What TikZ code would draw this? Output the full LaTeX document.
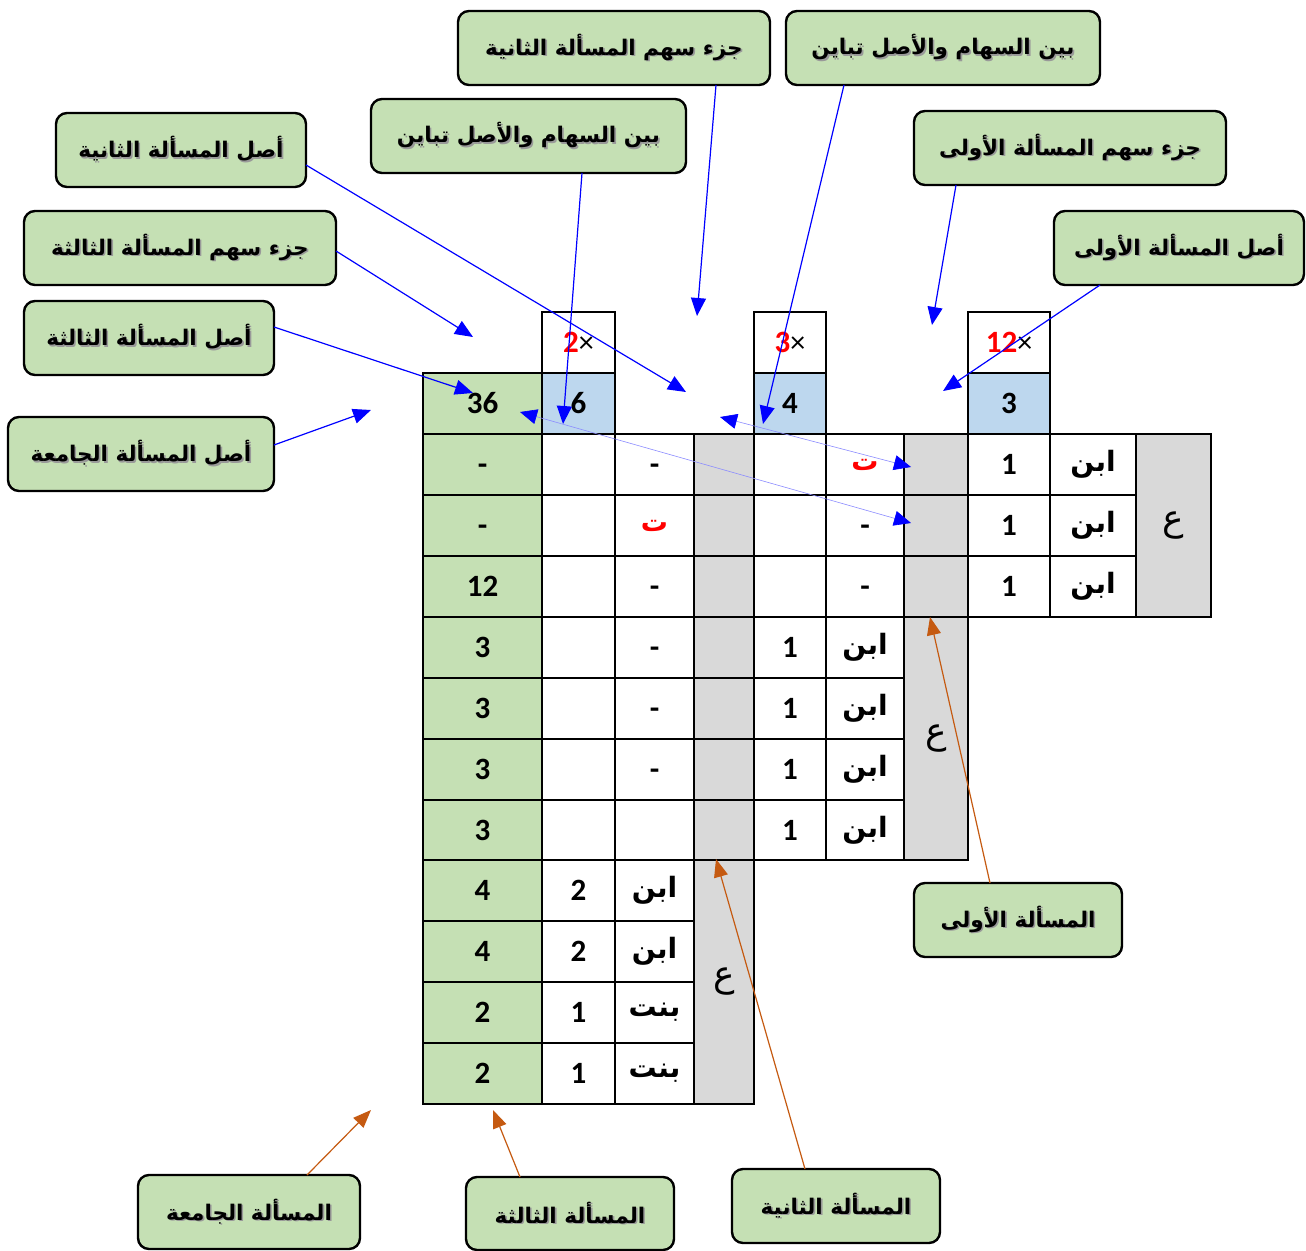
\documentclass[tikz,border=0pt]{standalone}
\usepackage{fontspec}
\usetikzlibrary{arrows.meta}
\TeXXeTstate=1
\newfontfamily\arabicfont[Script=Arabic]{DejaVu Sans}
\newfontfamily\numfont{Carlito}
\definecolor{boxgreen}{HTML}{C5E0B4}
\definecolor{cellblue}{HTML}{BDD7EE}
\definecolor{cellgray}{HTML}{D9D9D9}
\definecolor{rust}{HTML}{C55A11}
\definecolor{paleblue}{HTML}{8C8CFF}
\definecolor{tipblue}{HTML}{0000FF}

% Arabic word inside a table cell
\newcommand\arc[1]{{\arabicfont\bfseries\fontsize{28}{32}\selectfont\beginR #1\endR}}
% the large ain of a merged column
\newcommand\ain{{\arabicfont\mdseries\fontsize{36}{40}\selectfont\beginR ع\endR}}
% red taa mark
\newcommand\redt{{\color{red}\arabicfont\bfseries\fontsize{27}{32}\selectfont\beginR ت\endR}}
% dash sitting at digit height
\newcommand\dsh{\vphantom{1}-}
% multiplier header: red factor and a black times sign
\newcommand\mult[1]{{\color{red}#1}{\mdseries\fontsize{30}{34}\selectfont\char"00D7}}
% caption text with a soft drop shadow
\newcommand\shadowed[1]{\rlap{\kern1.6pt\raisebox{-1.6pt}{\color{black!40}#1}}#1}

% table cell given by its corners (pixels, y downward)
\newcommand\cellnode[7]{\node[cellbox,#6,minimum width={(#4-#2)*1pt},minimum height={(#5-#3)*1pt}] (#1) at ({(#2+#4)/2},{(#3+#5)/2}) {#7};}
% rounded caption box given by its corners
\newcommand\lbox[6]{\node[captionbox,minimum width={(#4-#2)*1pt},minimum height={(#5-#3)*1pt}] (#1) at ({(#2+#4)/2},{(#3+#5)/2}) {\shadowed{#6}};}

\tikzset{
  cellbox/.style={draw=black, line width=2.2pt, inner sep=0pt, outer sep=0pt,
    font=\numfont\bfseries\fontsize{31}{36}\selectfont},
  captionbox/.style={draw=black, line width=2.4pt, rounded corners=11pt, fill=boxgreen,
    inner sep=0pt, outer sep=0pt, font=\arabicfont\bfseries\fontsize{21.5}{26}\selectfont},
  bluearrow/.style={draw=tipblue, line width=1.2pt, -{Triangle[length=18pt,width=15pt]}},
  rustarrow/.style={draw=rust, line width=1.2pt, -{Triangle[length=18pt,width=14pt]}},
  palearrow/.style={draw=paleblue, line width=0.6pt,
    {Triangle[length=17pt,width=15pt,color=tipblue]}-{Triangle[length=17pt,width=15pt,color=tipblue]}},
}

\begin{document}
\begin{tikzpicture}[x=1pt,y=-1pt]
\useasboundingbox[fill=white] (0,0) rectangle (1306,1250);

% ---- header cells: multipliers and partial shares ----
\cellnode{hB}{542}{312}{615}{373}{}{\mult{2}}
\cellnode{vB}{542}{373}{615}{434}{fill=cellblue}{6}
\cellnode{hE}{754}{312}{826}{373}{}{\mult{3}}
\cellnode{vE}{754}{373}{826}{434}{fill=cellblue}{4}
\cellnode{hH}{968}{312}{1050}{373}{}{\mult{12}}
\cellnode{vH}{968}{373}{1050}{434}{fill=cellblue}{3}
\cellnode{A36}{423}{373}{542}{434}{fill=boxgreen}{36}

% ---- first problem rows ----
\foreach \n/\ya/\yb/\ta/\tc/\tf in {0/434/495/{\dsh}/{\dsh}/{\redt}, 1/495/556/{\dsh}/{\redt}/{\dsh}, 2/556/617/12/{\dsh}/{\dsh}}{
  \cellnode{A\n}{423}{\ya}{542}{\yb}{fill=boxgreen}{\ta}
  \cellnode{B\n}{542}{\ya}{615}{\yb}{}{}
  \cellnode{C\n}{615}{\ya}{694}{\yb}{}{\tc}
  \cellnode{D\n}{694}{\ya}{754}{\yb}{fill=cellgray}{}
  \cellnode{E\n}{754}{\ya}{826}{\yb}{}{}
  \cellnode{F\n}{826}{\ya}{904}{\yb}{}{\tf}
  \cellnode{G\n}{904}{\ya}{968}{\yb}{fill=cellgray}{}
  \cellnode{H\n}{968}{\ya}{1050}{\yb}{}{1}
  \cellnode{I\n}{1050}{\ya}{1136}{\yb}{}{\arc{ابن}}
}
\cellnode{J0}{1136}{434}{1211}{617}{fill=cellgray}{\ain}

% ---- second problem rows ----
\foreach \n/\ya/\yb/\tc in {3/617/678/{\dsh}, 4/678/739/{\dsh}, 5/739/800/{\dsh}, 6/800/860/{}}{
  \cellnode{A\n}{423}{\ya}{542}{\yb}{fill=boxgreen}{3}
  \cellnode{B\n}{542}{\ya}{615}{\yb}{}{}
  \cellnode{C\n}{615}{\ya}{694}{\yb}{}{\tc}
  \cellnode{D\n}{694}{\ya}{754}{\yb}{fill=cellgray}{}
  \cellnode{E\n}{754}{\ya}{826}{\yb}{}{1}
  \cellnode{F\n}{826}{\ya}{904}{\yb}{}{\arc{ابن}}
}
\cellnode{G3}{904}{617}{968}{860}{fill=cellgray}{\ain}

% ---- third problem rows ----
\foreach \n/\ya/\yb/\ta/\tb/\tc in {7/860/921/4/2/{ابن}, 8/921/982/4/2/{ابن}, 9/982/1043/2/1/{بنت}, 10/1043/1104/2/1/{بنت}}{
  \cellnode{A\n}{423}{\ya}{542}{\yb}{fill=boxgreen}{\ta}
  \cellnode{B\n}{542}{\ya}{615}{\yb}{}{\tb}
  \cellnode{C\n}{615}{\ya}{694}{\yb}{}{\arc{\tc}}
}
\cellnode{D7}{694}{860}{754}{1104}{fill=cellgray}{\ain}

% ---- caption boxes ----
\lbox{bJ2}{458}{11}{770}{85}{\beginR جزء سهم المسألة الثانية\endR}
\lbox{bB1}{786}{11}{1100}{85}{\beginR بين السهام والأصل تباين\endR}
\lbox{bB2}{371}{99}{686}{173}{\beginR بين السهام والأصل تباين\endR}
\lbox{bJ1}{914}{111}{1226}{185}{\beginR جزء سهم المسألة الأولى\endR}
\lbox{bA1}{1054}{211}{1304}{285}{\beginR أصل المسألة الأولى\endR}
\lbox{bA2}{56}{113}{306}{187}{\beginR أصل المسألة الثانية\endR}
\lbox{bJ3}{24}{211}{336}{285}{\beginR جزء سهم المسألة الثالثة\endR}
\lbox{bA3}{24}{301}{274}{375}{\beginR أصل المسألة الثالثة\endR}
\lbox{bAJ}{8}{417}{274}{491}{\beginR أصل المسألة الجامعة\endR}
\lbox{bM1}{914}{883}{1122}{957}{\beginR المسألة الأولى\endR}
\lbox{bMJ}{138}{1175}{360}{1249}{\beginR المسألة الجامعة\endR}
\lbox{bM3}{466}{1177}{674}{1250}{\beginR المسألة الثالثة\endR}
\lbox{bM2}{732}{1169}{940}{1243}{\beginR المسألة الثانية\endR}

% ---- arrow end points ----
\coordinate (tA2) at (686,392);
\coordinate (tJ3) at (473,337);
\coordinate (tA3) at (473,393);
\coordinate (tAJ) at (371,410);
\coordinate (tB2) at (563,424);
\coordinate (tJ2) at (697,316);
\coordinate (tB1) at (763,424);
\coordinate (tJ1) at (932,325);
\coordinate (tA1) at (943,391);
\coordinate (tM1) at (930,617);
\coordinate (tM2) at (716,859);
\coordinate (tM3) at (493,1110);
\coordinate (tMJ) at (371,1110);
\coordinate (pa) at (720,417);
\coordinate (pb) at (911,467);
\coordinate (pc) at (520,412);
\coordinate (pd) at (911,523);

% ---- blue pointers ----
\draw[bluearrow] ([yshift=-15pt]bA2.east) -- (tA2);
\draw[bluearrow] ([yshift=-3pt]bJ3.east) -- (tJ3);
\draw[bluearrow] ([yshift=11pt]bA3.east) -- (tA3);
\draw[bluearrow] ([yshift=9pt]bAJ.east) -- (tAJ);
\draw[bluearrow] ([xshift=53.5pt]bB2.south) -- (tB2);
\draw[bluearrow] ([xshift=102pt]bJ2.south) -- (tJ2);
\draw[bluearrow] ([xshift=-99pt]bB1.south) -- (tB1);
\draw[bluearrow] ([xshift=-114pt]bJ1.south) -- (tJ1);
\draw[bluearrow] ([xshift=-79pt]bA1.south) -- (tA1);

% ---- thin double pointers ----
\draw[palearrow] (pa) -- (pb);
\draw[palearrow] (pc) -- (pd);

% ---- orange pointers ----
\draw[rustarrow] ([xshift=-28pt]bM1.north) -- (tM1);
\draw[rustarrow] ([xshift=-31pt]bM2.north) -- (tM2);
\draw[rustarrow] ([xshift=-50pt]bM3.north) -- (tM3);
\draw[rustarrow] ([xshift=58pt]bMJ.north) -- (tMJ);
\end{tikzpicture}
\end{document}
